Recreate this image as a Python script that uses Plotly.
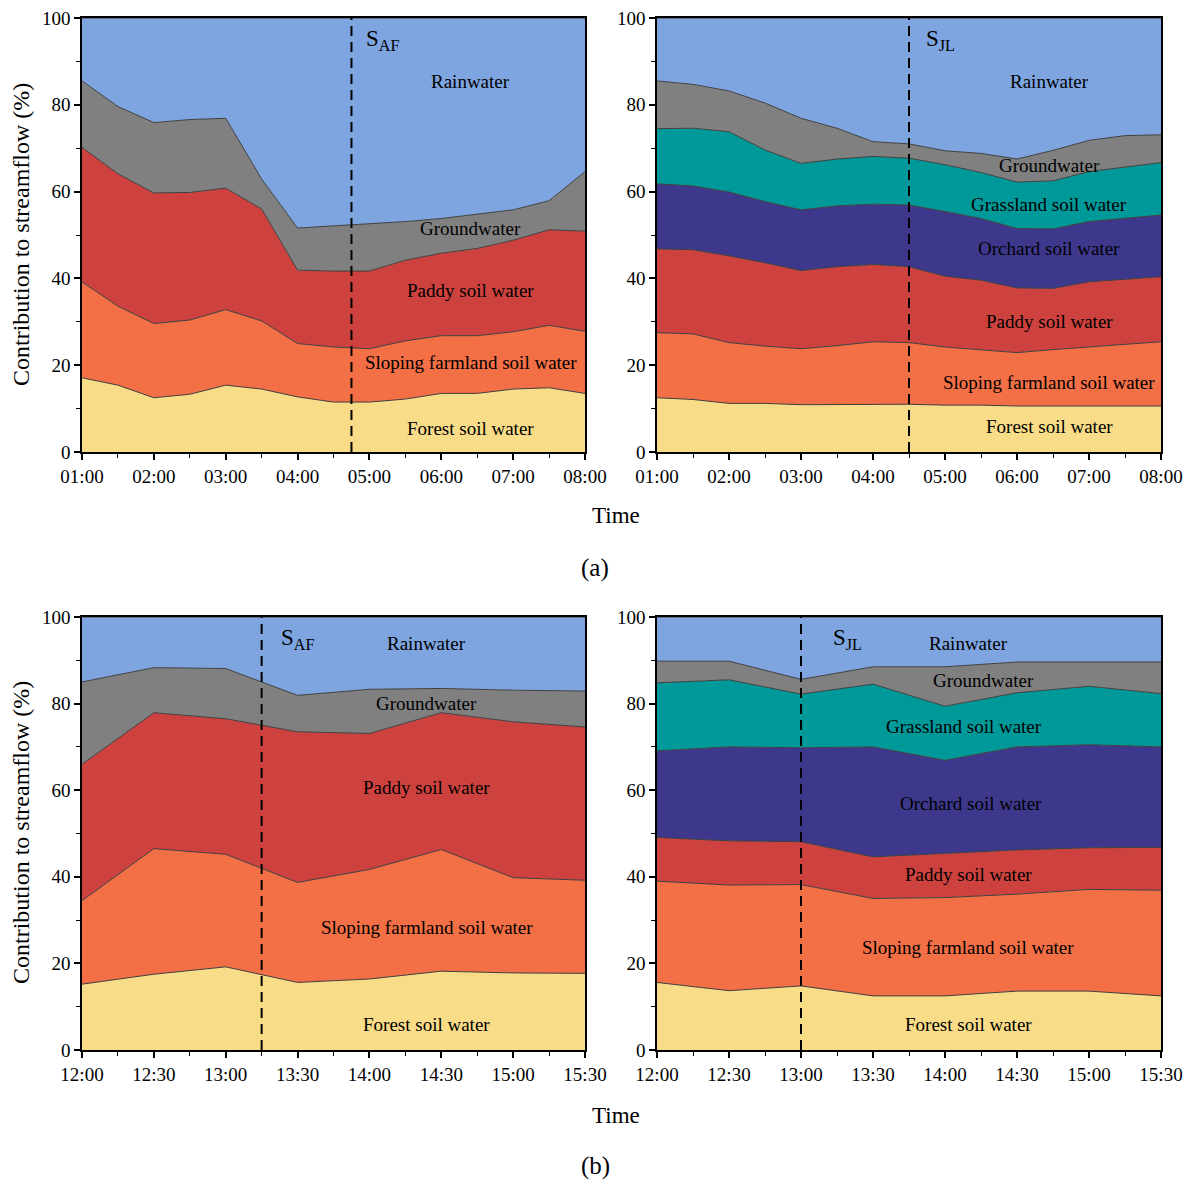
import plotly.graph_objects as go

# ---------------- data ----------------
times_a = ["01:00", "01:30", "02:00", "02:30", "03:00", "03:30", "04:00", "04:30",
           "05:00", "05:30", "06:00", "06:30", "07:00", "07:30", "08:00"]
times_b = ["12:00", "12:30", "13:00", "13:30", "14:00", "14:30", "15:00", "15:30"]

# (a) left, S_AF
aL_forest = [17.1, 15.4, 12.5, 13.3, 15.4, 14.5, 12.7, 11.5, 11.5, 12.2, 13.5, 13.5, 14.5, 14.8, 13.5]
aL_sloping = [22.1, 18.2, 17.1, 17.1, 17.4, 15.7, 12.3, 12.7, 12.3, 13.4, 13.3, 13.3, 13.2, 14.4, 14.3]
aL_paddy = [31.0, 30.5, 30.1, 29.4, 28.0, 25.8, 16.9, 17.5, 17.9, 18.6, 19.0, 20.1, 21.1, 22.0, 23.1]
aL_ground = [15.3, 15.5, 16.2, 16.8, 16.1, 6.9, 9.7, 10.4, 10.9, 8.9, 8.0, 7.9, 7.0, 6.7, 13.7]
aL_rain = [14.5, 20.4, 24.1, 23.4, 23.1, 37.1, 48.4, 47.9, 47.4, 46.9, 46.2, 45.2, 44.2, 42.1, 35.4]

# (a) right, S_JL
aR_forest = [12.5, 12.1, 11.2, 11.2, 10.9, 10.9, 11.0, 11.0, 10.8, 10.8, 10.6, 10.6, 10.6, 10.6, 10.6]
aR_sloping = [15.0, 15.1, 14.0, 13.2, 12.9, 13.6, 14.4, 14.2, 13.4, 12.8, 12.3, 13.0, 13.6, 14.2, 14.8]
aR_paddy = [19.3, 19.4, 20.0, 19.2, 18.0, 18.2, 17.8, 17.5, 16.3, 16.0, 14.9, 14.1, 15.0, 15.0, 15.0]
aR_orchard = [15.0, 14.7, 14.7, 14.1, 14.0, 14.0, 13.9, 14.2, 14.9, 14.2, 13.7, 13.7, 13.9, 14.0, 14.2]
aR_grass = [12.7, 13.3, 13.9, 11.9, 10.7, 10.8, 11.0, 10.8, 10.8, 10.6, 10.7, 11.1, 11.5, 11.8, 12.1]
aR_ground = [11.0, 10.1, 9.4, 10.8, 10.4, 7.1, 3.4, 3.3, 3.2, 4.4, 5.3, 7.0, 7.2, 7.3, 6.4]
aR_rain = [14.5, 15.3, 16.8, 19.6, 23.1, 25.4, 28.5, 29.0, 30.6, 31.2, 32.5, 30.5, 28.2, 27.1, 26.9]

# (b) left, S_AF
bL_forest = [15.2, 17.5, 19.2, 15.6, 16.4, 18.2, 17.8, 17.7]
bL_sloping = [19.3, 29.0, 26.0, 23.1, 25.3, 28.1, 22.0, 21.5]
bL_paddy = [31.5, 31.4, 31.3, 34.8, 31.4, 31.6, 36.0, 35.4]
bL_ground = [19.0, 10.4, 11.6, 8.4, 10.2, 5.6, 7.3, 8.3]
bL_rain = [15.0, 11.7, 11.9, 18.1, 16.7, 16.5, 16.9, 17.1]

# (b) right, S_JL
bR_forest = [15.6, 13.7, 14.8, 12.5, 12.5, 13.6, 13.6, 12.5]
bR_sloping = [23.4, 24.4, 23.4, 22.5, 22.7, 22.4, 23.5, 24.4]
bR_paddy = [10.1, 10.2, 9.9, 9.6, 10.2, 10.2, 9.6, 9.9]
bR_orchard = [20.0, 21.7, 21.7, 25.4, 21.5, 23.8, 23.8, 23.2]
bR_grass = [15.7, 15.5, 12.4, 14.5, 12.5, 12.5, 13.5, 12.3]
bR_ground = [5.0, 4.3, 3.4, 4.0, 9.1, 7.1, 5.6, 7.3]
bR_rain = [10.2, 10.2, 14.4, 11.5, 11.5, 10.4, 10.4, 10.4]

ticks_a = ["01:00", "02:00", "03:00", "04:00", "05:00", "06:00", "07:00", "08:00"]
ticks_b = ["12:00", "12:30", "13:00", "13:30", "14:00", "14:30", "15:00", "15:30"]
y_ticks = [0, 20, 40, 60, 80, 100]

split_aL = "04:45"
split_aR = "04:30"
split_bL = "13:15"
split_bR = "13:00"

# ---------------- styles ----------------
FONT = "Liberation Serif"
COLORS = {
    "Forest soil water": "#F9DC87",
    "Sloping farmland soil water": "#F36F45",
    "Paddy soil water": "#CD423E",
    "Orchard soil water": "#3E388C",
    "Grassland soil water": "#00999A",
    "Groundwater": "#808080",
    "Rainwater": "#7EA5DF",
}


def hrs(t):
    h, m = t.split(":")
    return int(h) + int(m) / 60.0


fig = go.Figure()

panels = [
    ("x", "y", times_a, [("Forest soil water", aL_forest), ("Sloping farmland soil water", aL_sloping),
                         ("Paddy soil water", aL_paddy), ("Groundwater", aL_ground), ("Rainwater", aL_rain)]),
    ("x2", "y2", times_a, [("Forest soil water", aR_forest), ("Sloping farmland soil water", aR_sloping),
                           ("Paddy soil water", aR_paddy), ("Orchard soil water", aR_orchard),
                           ("Grassland soil water", aR_grass), ("Groundwater", aR_ground), ("Rainwater", aR_rain)]),
    ("x3", "y3", times_b, [("Forest soil water", bL_forest), ("Sloping farmland soil water", bL_sloping),
                           ("Paddy soil water", bL_paddy), ("Groundwater", bL_ground), ("Rainwater", bL_rain)]),
    ("x4", "y4", times_b, [("Forest soil water", bR_forest), ("Sloping farmland soil water", bR_sloping),
                           ("Paddy soil water", bR_paddy), ("Orchard soil water", bR_orchard),
                           ("Grassland soil water", bR_grass), ("Groundwater", bR_ground), ("Rainwater", bR_rain)]),
]

for i, (xa, ya, times, series) in enumerate(panels):
    xs = [hrs(t) for t in times]
    for name, vals in series:
        fig.add_trace(go.Scatter(
            x=xs, y=vals, xaxis=xa, yaxis=ya, name=name, mode="lines",
            stackgroup="s%d" % i, line=dict(color="#3f3f3f", width=1),
            fillcolor=COLORS[name], showlegend=False, hoverinfo="x+y+name"))

# page has an 8px body margin: lay out the figure so that it lands on the reference pixels
OFF = 8
W, H = 1191 - OFF, 1185 - OFF
def px_x(p):
    return (p - OFF) / W
def px_y(p):
    return 1 - (p - OFF) / H

dom_xL = [px_x(82), px_x(585)]
dom_xR = [px_x(657), px_x(1161)]
dom_yA = [px_y(452), px_y(18)]
dom_yB = [px_y(1050), px_y(617)]

axis_common = dict(showline=True, linecolor="black", linewidth=1.5, mirror=True,
                   ticks="outside", tickcolor="black", tickwidth=1.5, ticklen=6,
                   showgrid=False, zeroline=False, automargin=False,
                   ticklabeloverflow="allow",
                   tickfont=dict(family=FONT, size=19, color="black"))

def xaxis(domain, anchor, times_ticks, rng, minor_dt):
    d = dict(axis_common)
    d.update(domain=domain, anchor=anchor, range=rng, tickmode="array",
             tickvals=[hrs(t) for t in times_ticks], ticktext=times_ticks,
             minor=dict(ticks="outside", ticklen=4, tickcolor="black", tickwidth=1.2,
                        tickmode="linear", tick0=rng[0], dtick=minor_dt))
    return d

def yaxis(domain, anchor):
    d = dict(axis_common)
    d.update(domain=domain, anchor=anchor, range=[0, 100], tickmode="array",
             tickvals=y_ticks, ticktext=[str(v) for v in y_ticks],
             minor=dict(ticks="outside", ticklen=4, tickcolor="black", tickwidth=1.2,
                        tickmode="linear", tick0=0, dtick=10))
    return d

ra = [hrs(times_a[0]), hrs(times_a[-1])]
rb = [hrs(times_b[0]), hrs(times_b[-1])]

fig.update_layout(
    width=W, height=H, margin=dict(l=0, r=0, t=0, b=0, autoexpand=False),
    paper_bgcolor="white", plot_bgcolor="white",
    xaxis=xaxis(dom_xL, "y", ticks_a, ra, 0.5),
    yaxis=yaxis(dom_yA, "x"),
    xaxis2=xaxis(dom_xR, "y2", ticks_a, ra, 0.5),
    yaxis2=yaxis(dom_yA, "x2"),
    xaxis3=xaxis(dom_xL, "y3", ticks_b, rb, 0.25),
    yaxis3=yaxis(dom_yB, "x3"),
    xaxis4=xaxis(dom_xR, "y4", ticks_b, rb, 0.25),
    yaxis4=yaxis(dom_yB, "x4"),
    font=dict(family=FONT, color="black"),
)

# dashed separation lines
for xa, ya, t in [("x", "y", split_aL), ("x2", "y2", split_aR), ("x3", "y3", split_bL), ("x4", "y4", split_bR)]:
    fig.add_shape(type="line", xref=xa, yref=ya, x0=hrs(t), x1=hrs(t), y0=0, y1=100,
                  line=dict(color="black", width=2, dash="10px,6px"))


def label(xa, ya, x, y, text, size=19, xanchor="center"):
    fig.add_annotation(xref=xa, yref=ya, x=x, y=y, text=text, showarrow=False,
                       font=dict(family=FONT, size=size, color="black"), xanchor=xanchor, yanchor="middle")

# (a) left
cx = 6.41
label("x", "y", cx, 85.3, "Rainwater")
label("x", "y", cx, 51.6, "Groundwater")
label("x", "y", cx, 37.1, "Paddy soil water")
label("x", "y", cx, 20.7, "Sloping farmland soil water")
label("x", "y", cx, 5.5, "Forest soil water")
label("x", "y", 4.93, 95.0, "S<sub>AF</sub>", size=23, xanchor="left")

# (a) right
cx = 6.45
label("x2", "y2", cx, 85.3, "Rainwater")
label("x2", "y2", cx, 66.1, "Groundwater")
label("x2", "y2", cx, 57.1, "Grassland soil water")
label("x2", "y2", cx, 47.0, "Orchard soil water")
label("x2", "y2", cx, 30.0, "Paddy soil water")
label("x2", "y2", cx, 16.1, "Sloping farmland soil water")
label("x2", "y2", cx, 5.8, "Forest soil water")
label("x2", "y2", 4.71, 95.0, "S<sub>JL</sub>", size=23, xanchor="left")

# (b) left
cx = 14.4
label("x3", "y3", cx, 93.8, "Rainwater")
label("x3", "y3", cx, 80.1, "Groundwater")
label("x3", "y3", cx, 60.7, "Paddy soil water")
label("x3", "y3", cx, 28.4, "Sloping farmland soil water")
label("x3", "y3", cx, 6.0, "Forest soil water")
label("x3", "y3", 13.37, 95.0, "S<sub>AF</sub>", size=23, xanchor="left")

# (b) right
label("x4", "y4", 14.16, 93.8, "Rainwater")
label("x4", "y4", 14.27, 85.4, "Groundwater")
label("x4", "y4", 14.13, 74.6, "Grassland soil water")
label("x4", "y4", 14.18, 57.0, "Orchard soil water")
label("x4", "y4", 14.16, 40.6, "Paddy soil water")
label("x4", "y4", 14.16, 23.6, "Sloping farmland soil water")
label("x4", "y4", 14.16, 6.0, "Forest soil water")
label("x4", "y4", 13.21, 95.0, "S<sub>JL</sub>", size=23, xanchor="left")

# axis titles and panel tags
def paper_text(x, y, text, size, angle=0):
    fig.add_annotation(xref="paper", yref="paper", x=px_x(x), y=px_y(y), text=text,
                       showarrow=False, textangle=angle, xanchor="center", yanchor="middle",
                       font=dict(family=FONT, size=size, color="black"))

paper_text(21, 235, "Contribution to streamflow (%)", 24, -90)
paper_text(21, 833, "Contribution to streamflow (%)", 24, -90)
paper_text(616, 515, "Time", 23)
paper_text(616, 1115, "Time", 23)
paper_text(595, 568, "(a)", 25)
paper_text(595, 1166, "(b)", 25)

fig.write_html("out.html")
